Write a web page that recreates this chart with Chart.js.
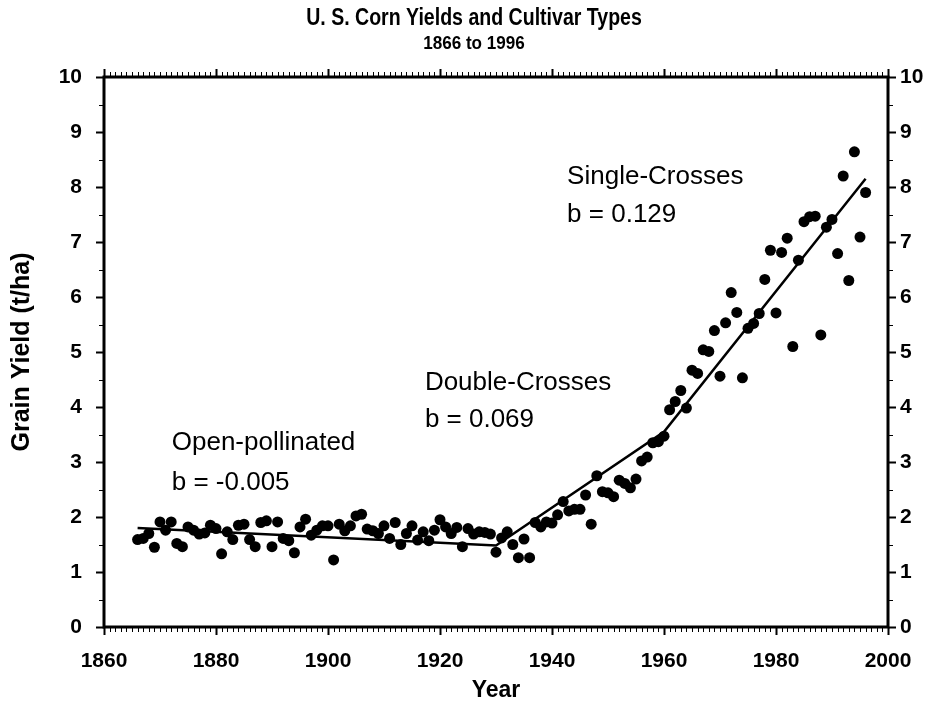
<!DOCTYPE html>
<html>
<head>
<meta charset="utf-8">
<script src="https://cdn.jsdelivr.net/npm/chart.js@4.4.0/dist/chart.umd.min.js"></script>
<style>
  html, body { margin: 0; padding: 0; background: #fff; }
</style>
</head>
<body>
<canvas id="mycanvas" width="942" height="708"></canvas>
<script>
// annual U.S. corn grain yield, t/ha, 1866..1996
var firstYear = 1866;
var yields = [
  1.59, 1.61, 1.70, 1.45, 1.91, 1.76, 1.91, 1.52, 1.46, 1.82,
  1.76, 1.69, 1.71, 1.85, 1.79, 1.33, 1.73, 1.59, 1.85, 1.87,
  1.59, 1.46, 1.90, 1.93, 1.46, 1.91, 1.61, 1.57, 1.35, 1.82,
  1.96, 1.67, 1.76, 1.84, 1.84, 1.22, 1.87, 1.75, 1.84, 2.02,
  2.05, 1.78, 1.75, 1.70, 1.84, 1.61, 1.90, 1.50, 1.70, 1.84,
  1.58, 1.73, 1.57, 1.76, 1.95, 1.82, 1.70, 1.81, 1.46, 1.79,
  1.69, 1.73, 1.72, 1.69, 1.36, 1.62, 1.73, 1.50, 1.26, 1.60,
  1.26, 1.90, 1.82, 1.91, 1.89, 2.04, 2.28, 2.11, 2.14, 2.14,
  2.40, 1.87, 2.75, 2.46, 2.44, 2.37, 2.67, 2.61, 2.53, 2.69,
  3.02, 3.09, 3.35, 3.37, 3.47, 3.95, 4.10, 4.30, 3.98, 4.67,
  4.61, 5.04, 5.01, 5.39, 4.56, 5.53, 6.08, 5.72, 4.53, 5.43,
  5.52, 5.70, 6.32, 6.85, 5.71, 6.81, 7.07, 5.10, 6.67, 7.37,
  7.46, 7.47, 5.31, 7.27, 7.41, 6.79, 8.20, 6.30, 8.64, 7.09,
  7.90
];
var years = yields.map(function(v, i) { return firstYear + i; });

// segmented regression line (break points)
var trendYears = [1866, 1930, 1960, 1996];
var trendValues = [1.80, 1.48, 3.55, 8.15];

// cultivar labels and slopes
var labelText = ["Open-pollinated", "b = -0.005", "Double-Crosses", "b = 0.069", "Single-Crosses", "b = 0.129"];
var labelYear = [1872.1, 1872.1, 1917.3, 1917.3, 1942.7, 1942.7];
var labelValue = [3.35, 2.62, 4.44, 3.76, 8.18, 7.49];

var xTicks = [1860, 1880, 1900, 1920, 1940, 1960, 1980, 2000];
var yTicks = [0, 1, 2, 3, 4, 5, 6, 7, 8, 9, 10];

var titleText = "U. S. Corn Yields and Cultivar Types";
var subtitleText = "1866 to 1996";

var FONT = "'Liberation Sans', Arial, Helvetica, sans-serif";
Chart.defaults.font.family = FONT;
Chart.defaults.color = "#000";

var points = [];
for (var i in yields) {
  points.push({x: years[i], y: yields[i]});
}
var trend = [];
for (var j in trendYears) {
  trend.push({x: trendYears[j], y: trendValues[j]});
}

// titles (condensed), frame, tick marks and the text labels
var framePlugin = {
  id: "frame",
  afterDraw: function(chart) {
    var ctx = chart.ctx;
    var a = chart.chartArea;
    var xs = chart.scales.x;
    var ys = chart.scales.y;
    ctx.save();
    ctx.strokeStyle = "#000";
    ctx.fillStyle = "#000";

    var cx = chart.width / 2 + 3;
    ctx.textAlign = "center";
    ctx.textBaseline = "middle";
    ctx.save();
    ctx.translate(cx, 19);
    ctx.scale(0.85, 1);
    ctx.font = "bold 23px " + FONT;
    ctx.fillText(titleText, 0, 0);
    ctx.restore();
    ctx.save();
    ctx.translate(cx, 44);
    ctx.scale(0.9, 1);
    ctx.font = "bold 19px " + FONT;
    ctx.fillText(subtitleText, 0, 0);
    ctx.restore();

    // minor / major ticks on x (bottom and top)
    for (var yr = xTicks[0]; yr <= xTicks[xTicks.length - 1]; yr++) {
      var px = Math.round(xs.getPixelForValue(yr)) + 0.5;
      var major = (yr - xTicks[0]) % 20 === 0;
      var len = major ? 8 : 5;
      ctx.lineWidth = major ? 2 : 1;
      ctx.beginPath();
      ctx.moveTo(px, a.bottom);
      ctx.lineTo(px, a.bottom + len);
      ctx.moveTo(px, a.top);
      ctx.lineTo(px, a.top - len);
      ctx.stroke();
    }
    // y ticks on left and right
    for (var k = 0; k <= 20; k++) {
      var v = k / 2;
      var py = Math.round(ys.getPixelForValue(v)) + 0.5;
      var majorY = k % 2 === 0;
      var leny = majorY ? 8 : 5;
      ctx.lineWidth = majorY ? 2 : 1;
      ctx.beginPath();
      ctx.moveTo(a.left, py);
      ctx.lineTo(a.left - leny, py);
      ctx.moveTo(a.right, py);
      ctx.lineTo(a.right + leny, py);
      ctx.stroke();
    }

    ctx.lineWidth = 3;
    ctx.strokeRect(a.left, a.top, a.right - a.left, a.bottom - a.top);

    ctx.font = "26px " + FONT;
    ctx.textAlign = "left";
    ctx.textBaseline = "middle";
    for (var n = 0; n < labelText.length; n++) {
      ctx.fillText(labelText[n], xs.getPixelForValue(labelYear[n]), ys.getPixelForValue(labelValue[n]));
    }
    ctx.restore();
  }
};

var ctx = document.getElementById("mycanvas");

var chart = new Chart(ctx, {
  type: "scatter",
  data: {
    datasets: [
      {
        label: "Yield",
        data: points,
        pointRadius: 5.5,
        pointHoverRadius: 5.5,
        backgroundColor: "#000",
        borderWidth: 0
      },
      {
        type: "line",
        label: "Trend",
        data: trend,
        borderColor: "#000",
        borderWidth: 2.5,
        pointRadius: 0,
        fill: false,
        tension: 0
      }
    ]
  },
  options: {
    responsive: false,
    animation: false,
    events: [],
    layout: { padding: { top: 77, left: 0, right: 0, bottom: 0 } },
    plugins: {
      legend: { display: false },
      tooltip: { enabled: false },
      title: { display: false },
      subtitle: { display: false }
    },
    scales: {
      x: {
        type: "linear",
        position: "bottom",
        min: xTicks[0],
        max: xTicks[xTicks.length - 1],
        grid: { display: false, drawTicks: false },
        border: { display: false },
        ticks: {
          stepSize: 20,
          padding: 22,
          color: "#000",
          font: { size: 21, weight: "bold" },
          callback: function(v) { return xTicks.indexOf(v) >= 0 ? String(v) : ""; }
        },
        title: {
          display: true,
          text: "Year",
          color: "#000",
          font: { size: 23, weight: "bold" },
          padding: { top: 0, bottom: 4 }
        },
        afterFit: function(s) { s.height = 81; }
      },
      y: {
        position: "left",
        min: 0,
        max: 10,
        grid: { display: false, drawTicks: false },
        border: { display: false },
        ticks: {
          stepSize: 1,
          padding: 22,
          color: "#000",
          font: { size: 21, weight: "bold" },
          callback: function(v) { return yTicks.indexOf(v) >= 0 ? String(v) : ""; }
        },
        title: {
          display: true,
          text: "Grain Yield (t/ha)",
          color: "#000",
          font: { size: 25, weight: "bold" },
          padding: { top: 7, bottom: 0 }
        },
        afterFit: function(s) { s.width = 104; }
      },
      y2: {
        position: "right",
        min: 0,
        max: 10,
        grid: { display: false, drawTicks: false },
        border: { display: false },
        ticks: {
          stepSize: 1,
          padding: 12,
          color: "#000",
          font: { size: 21, weight: "bold" },
          callback: function(v) { return yTicks.indexOf(v) >= 0 ? String(v) : ""; }
        },
        afterFit: function(s) { s.width = 54; }
      }
    }
  },
  plugins: [framePlugin]
});
</script>
</body>
</html>
